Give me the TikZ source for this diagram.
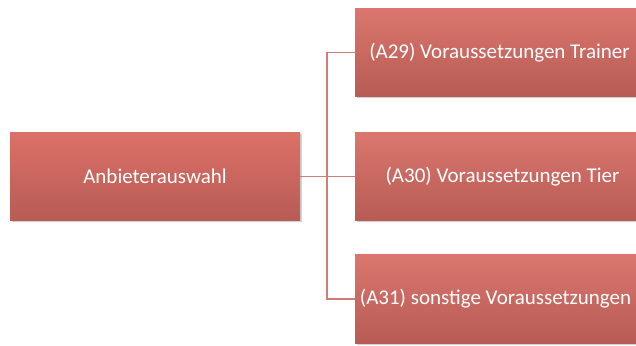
\documentclass[tikz,border=0pt]{standalone}
\usepackage{fontspec}
\setmainfont{Carlito}
\usepackage{xcolor}
\usepackage{tikz}
\usetikzlibrary{positioning,shadows}

\definecolor{boxtop}{HTML}{DA766D}
\definecolor{boxbot}{HTML}{B75C55}
\definecolor{linkred}{HTML}{D27C78}

\begin{document}
\begin{tikzpicture}[x=1pt,y=1pt,
  block/.style={rectangle, minimum height=88pt, top color=boxtop, bottom color=boxbot,
    draw=none, text=white, font=\fontsize{21}{24}\selectfont, inner sep=0pt,
    drop shadow={shadow xshift=1.5pt, shadow yshift=-2pt, opacity=0.35}},
  link/.style={draw=linkred, line width=1.8pt}]
  \clip (0,0) rectangle (636,345);
  \fill[white] (0,0) rectangle (636,345);
  \node[block, minimum width=290pt, top color=boxtop!95!red] (auswahl) at (155,168.5) {Anbieterauswahl};
  \node[block, minimum width=295pt] (trainer) at (502.5,292.5) {\hspace*{-6pt}(A29) Voraussetzungen Trainer};
  \node[block, minimum width=295pt] (tier) at (502.5,168.5) {(A30) Voraussetzungen Tier};
  \node[block, minimum width=295pt] (sonst) at (502.5,46) {\hspace*{-14pt}(A31) sonstige Voraussetzungen};
  \coordinate (knoten) at (327,168.5);
  \draw[link] (auswahl.east) -- (tier.west);
  \draw[link] (trainer.west) -| (knoten) |- (sonst.west);
\end{tikzpicture}
\end{document}
